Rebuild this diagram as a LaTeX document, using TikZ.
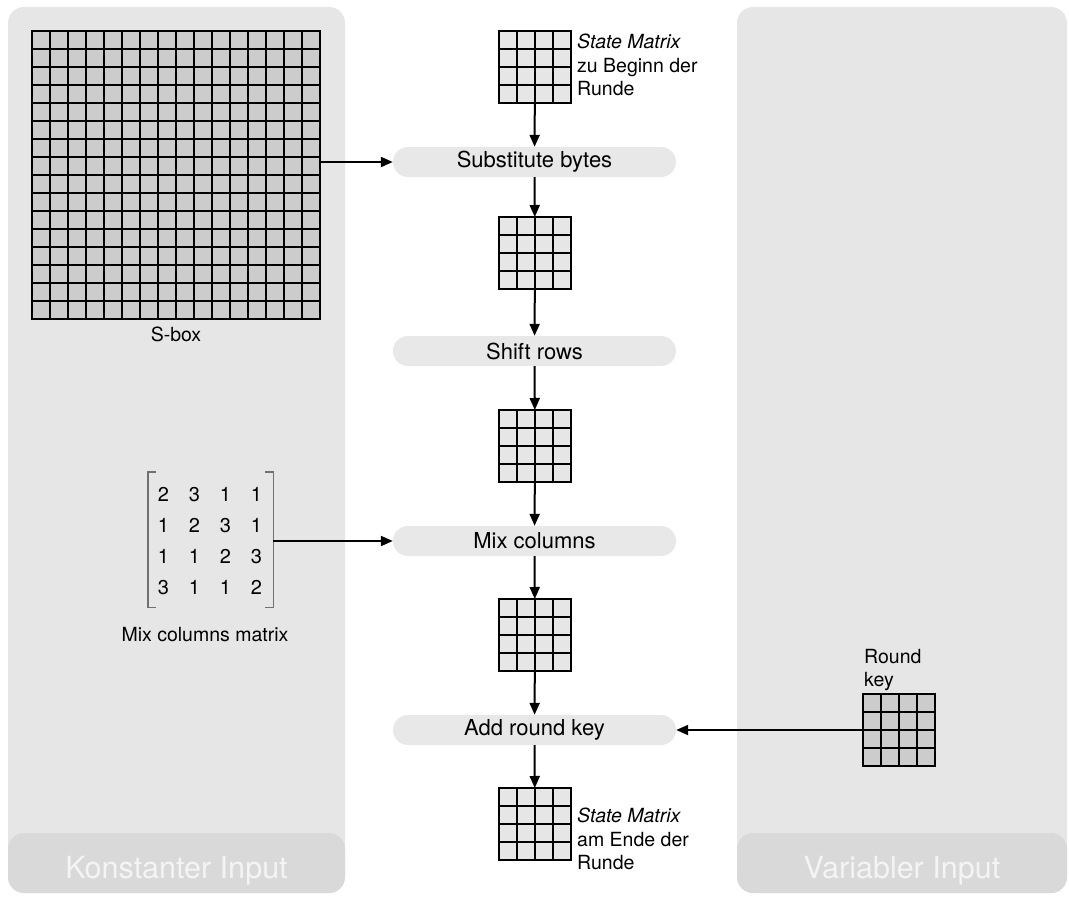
\documentclass[tikz,border=0pt]{standalone}
\usepackage{fontspec}
\setmainfont{TeX Gyre Heros}
\usetikzlibrary{calc,arrows.meta}
\definecolor{panel}{HTML}{E6E6E6}
\definecolor{labelbox}{HTML}{D9D9D9}
\definecolor{labeltext}{HTML}{F4F4F4}
\definecolor{cellL}{HTML}{E6E6E6}
\definecolor{cellD}{HTML}{CCCCCC}
\definecolor{procfill}{HTML}{E8E8E8}
\definecolor{brackgray}{HTML}{707070}
\newcommand\gridlines[2]{%
  \foreach \i in {1,...,#2} {
    \draw ($(#1.south west)!\i/(#2+1)!(#1.south east)$) -- ($(#1.north west)!\i/(#2+1)!(#1.north east)$);
    \draw ($(#1.south west)!\i/(#2+1)!(#1.north west)$) -- ($(#1.south east)!\i/(#2+1)!(#1.north east)$);
  }}
\newcommand\dg[1]{\makebox[31pt]{#1}}
\begin{document}
\begin{tikzpicture}[x=1pt,y=-1pt,
  panelbg/.style={fill=panel, rounded corners=16pt},
  panellabel/.style={fill=labelbox, rounded corners=16pt, minimum height=60pt, inner sep=0pt},
  paneltext/.style={text=labeltext, anchor=base, inner sep=0pt, font=\fontsize{30.5}{36}\selectfont},
  proc/.style={fill=procfill, rounded corners=15pt, minimum width=283pt, minimum height=30pt, inner sep=0pt, font=\fontsize{22}{26}\selectfont},
  smat/.style={draw=black, fill=cellL, line width=2pt, minimum size=72pt, inner sep=0pt, outer sep=0pt},
  dmat/.style={draw=black, fill=cellD, line width=2pt, minimum size=72pt, inner sep=0pt, outer sep=0pt},
  sboxgrid/.style={draw=black, fill=cellD, line width=2pt, minimum size=288pt, inner sep=0pt, outer sep=0pt},
  lbl/.style={inner sep=0pt, align=left, font=\fontsize{19.5}{23.5}\selectfont},
  arr/.style={line width=2pt, -{Triangle[length=12pt,width=10pt]}},
]
\useasboundingbox (0,0) rectangle (1069,899);
% panels
\fill[panelbg] (8,7) rectangle (345,893);
\fill[panelbg] (737,7) rectangle (1067,893);
\node[panellabel, minimum width=337pt] (konst) at (176.5,863) {};
\node[paneltext] (konstt) at (176.5,878) {Konstanter Input};
\node[panellabel, minimum width=330pt] (var) at (902,863) {};
\node[paneltext] (vart) at (902,878) {Variabler Input};

% S-box
\node[sboxgrid] (sbox) at (176,175) {};
\begin{scope}[line width=2pt]\gridlines{sbox}{15}\end{scope}
\node[lbl, anchor=base] (sboxl) at (176,341) {S-box};

% mix columns matrix
\node[inner sep=0pt, minimum width=125pt, minimum height=135pt] (mixm) at (210.5,539.5) {};
\node[inner sep=0pt, align=center, font=\fontsize{20}{30.8}\selectfont] (mixnums) at (210,541) {\dg2\dg3\dg1\dg1\\\dg1\dg2\dg3\dg1\\\dg1\dg1\dg2\dg3\\\dg3\dg1\dg1\dg2};
\draw[brackgray, line width=1.4pt] ($(mixm.north west)+(8,0)$) -- (mixm.north west) -- (mixm.south west) -- ++(8,0);
\draw[brackgray, line width=1.4pt] ($(mixm.north east)+(-8,0)$) -- (mixm.north east) -- (mixm.south east) -- ++(-8,0);
\node[lbl, anchor=base] (mixml) at (205,641) {Mix columns matrix};

% process boxes
\node[proc] (sub) at (534.5,162) {Substitute bytes};
\node[proc] (shift) at (534.5,351) {Shift rows};
\node[proc] (mix) at (534.5,541) {Mix columns};
\node[proc] (add) at (534.5,730) {Add round key};

% state matrices
\node[smat] (m1) at (535,67) {};
\node[smat] (m2) at (535,253) {};
\node[smat] (m3) at (535,446) {};
\node[smat] (m4) at (535,635) {};
\node[smat] (m5) at (535,824) {};
\begin{scope}[line width=2pt]
\gridlines{m1}{3}\gridlines{m2}{3}\gridlines{m3}{3}\gridlines{m4}{3}\gridlines{m5}{3}
\end{scope}
\node[lbl, anchor=north west] (m1l) at (577,34) {\textit{State Matrix}\\zu Beginn der\\Runde};
\node[lbl, anchor=north west] (m5l) at (577,808) {\textit{State Matrix}\\am Ende der\\Runde};

% round key
\node[dmat] (rk) at (899,730) {};
\begin{scope}[line width=2pt]\gridlines{rk}{3}\end{scope}
\node[lbl, anchor=north west] (rkl) at (864,649) {Round\\key};

% arrows
\draw[arr] (m1) -- (sub);
\draw[arr] (sub) -- (m2);
\draw[arr] (m2) -- (shift);
\draw[arr] (shift) -- (m3);
\draw[arr] (m3) -- (mix);
\draw[arr] (mix) -- (m4);
\draw[arr] (m4) -- (add);
\draw[arr] (add) -- (m5);
\draw[arr] (sbox.east |- sub.west) -- (sub.west);
\draw[arr] (mixm.east |- mix.west) -- (mix.west);
\draw[arr] (rk.west) -- (rk.west -| add.east);
\end{tikzpicture}
\end{document}
